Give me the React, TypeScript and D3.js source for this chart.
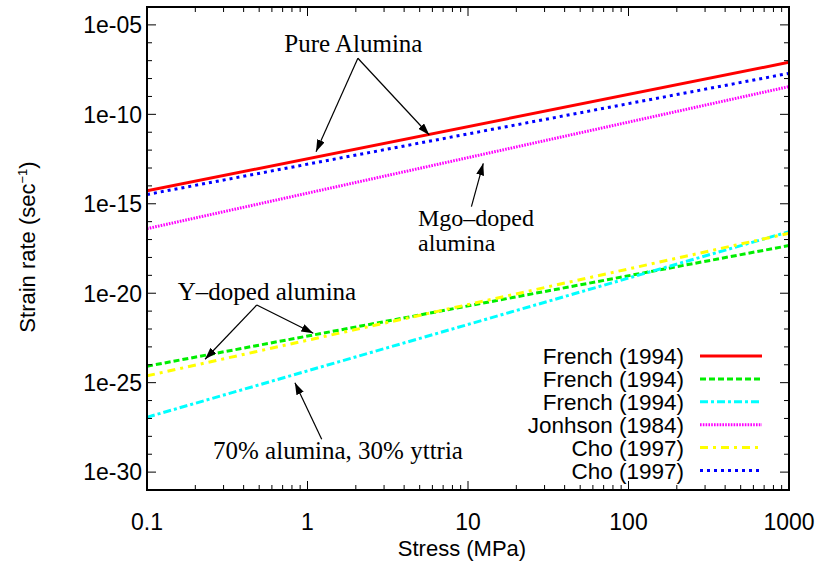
import React from 'react';
import * as d3 from 'd3';

// stress endpoints (MPa), each creep law is a straight line on log-log
const stressEnds = [0.1, 1000];

const seriesNames = ['French (1994)', 'French (1994)', 'French (1994)', 'Jonhson (1984)', 'Cho (1997)', 'Cho (1997)'];
const frenchPure = [5.25e-15, 8.1e-8];
const frenchYDoped = [8.3e-25, 4.6e-18];
const french7030 = [1.17e-27, 2.75e-17];
const johnsonMgo = [4.07e-17, 3.55e-9];
const choYDoped = [2.4e-25, 2.24e-17];
const choPure = [3.31e-15, 1.95e-8];
const seriesRates = [frenchPure, frenchYDoped, french7030, johnsonMgo, choYDoped, choPure];

const colors = ['#ff0000', '#00ee00', '#00ffff', '#ff00ff', '#ffff00', '#0000ff'];
const dashes = ['none', '6,3', '8,3,3,3', '1.6,1.2', '8,5,3,5', '3,4'];

const yTickExps = [-5, -10, -15, -20, -25, -30];
const xTickVals = [0.1, 1, 10, 100, 1000];

// annotation anchors in data coords [stress, rate]
const pureLabelAt = [1.93, 3.2e-7];
const pureApex = [2.06, 1.36e-7];
const pureTips = [[1.13, 8.2e-13], [5.74, 7.0e-12]];
const mgoTail = [10.5, 6.9e-16];
const mgoTip = [12.45, 1.83e-13];
const yDopedApex = [0.483, 2.2e-21];
const yDopedTips = [[0.23, 2.04e-24], [1.087, 5.75e-23]];
const ytTail = [1.226, 6.84e-29];
const ytTip = [0.835, 1.0e-25];

const W = 819, H = 563;
const left = 147, right = 789, top = 7, bottom = 490;

const x = d3.scaleLog().domain([0.1, 1000]).range([left, right]);
const y = d3.scaleLog().domain([1e-31, 1e-4]).range([bottom, top]);

const serif = '"Liberation Serif", "Times New Roman", serif';
const sans = '"Liberation Sans", Arial, Helvetica, sans-serif';

const Arrow: React.FC<{ from: number[]; to: number[] }> = ({ from, to }) => (
  <line x1={x(from[0])} y1={y(from[1])} x2={x(to[0])} y2={y(to[1])}
    stroke="#000" strokeWidth={1.2} markerEnd="url(#ah)" />
);

export default function App() {
  const line = d3.line<[number, number]>().x(d => x(d[0])).y(d => y(d[1]));

  const yMajors = d3.range(-31, -3).map(e => Math.pow(10, e));
  const xMinors: number[] = [];
  [0.1, 1, 10, 100].forEach(b => d3.range(2, 10).forEach(m => xMinors.push(b * m)));

  const legendTextX = 684, legendX1 = 700, legendX2 = 762;
  const legendY0 = 356, legendStep = 22.9;

  return (
    <svg width={W} height={H} style={{ position: 'absolute', left: 0, top: 0, background: '#fff' }}>
      <defs>
        <marker id="ah" viewBox="0 0 12 8" refX={12} refY={4} markerWidth={12} markerHeight={8}
          markerUnits="userSpaceOnUse" orient="auto">
          <path d="M0,0 L12,4 L0,8 Z" fill="#000" />
        </marker>
        <clipPath id="plot"><rect x={left} y={top} width={right - left} height={bottom - top} /></clipPath>
      </defs>

      {/* series */}
      <g clipPath="url(#plot)" fill="none">
        {seriesRates.map((r, i) => (
          <path key={i} d={line(stressEnds.map((s, j) => [s, r[j]]) as [number, number][]) || ''}
            stroke={colors[i]} strokeWidth={3} strokeDasharray={dashes[i]} />
        ))}
      </g>

      {/* y ticks */}
      {yMajors.map((v, i) => {
        const e = Math.round(Math.log10(v));
        const len = yTickExps.includes(e) ? 9 : 5;
        return (
          <g key={i} stroke="#000" strokeWidth={1}>
            <line x1={left} x2={left + len} y1={y(v)} y2={y(v)} />
            <line x1={right} x2={right - len} y1={y(v)} y2={y(v)} />
          </g>
        );
      })}
      {yTickExps.map(e => (
        <text key={e} x={142} y={y(Math.pow(10, e))} dy="0.36em" textAnchor="end"
          fontFamily={sans} fontSize={23}>{`1e-${String(-e).padStart(2, '0')}`}</text>
      ))}

      {/* x ticks */}
      {xTickVals.map(v => (
        <g key={v} stroke="#000" strokeWidth={1}>
          <line x1={x(v)} x2={x(v)} y1={bottom} y2={bottom - 9} />
          <line x1={x(v)} x2={x(v)} y1={top} y2={top + 9} />
        </g>
      ))}
      {xMinors.map(v => (
        <g key={v} stroke="#000" strokeWidth={1}>
          <line x1={x(v)} x2={x(v)} y1={bottom} y2={bottom - 5} />
          <line x1={x(v)} x2={x(v)} y1={top} y2={top + 5} />
        </g>
      ))}
      {xTickVals.map(v => (
        <text key={v} x={x(v)} y={530} textAnchor="middle" fontFamily={sans} fontSize={23}>{String(v)}</text>
      ))}

      <rect x={left} y={top} width={right - left} height={bottom - top} fill="none" stroke="#000" strokeWidth={2} />

      {/* axis titles */}
      <text x={462} y={556} textAnchor="middle" fontFamily={sans} fontSize={22}>Stress (MPa)</text>
      <text transform="translate(35,247) rotate(-90)" textAnchor="middle" fontFamily={sans} fontSize={22}>
        Strain rate (sec<tspan dy={-8} fontSize={13}>−1</tspan><tspan dy={8}>)</tspan>
      </text>

      {/* annotations */}
      <text x={x(pureLabelAt[0])} y={y(pureLabelAt[1])} textAnchor="middle" fontFamily={serif} fontSize={25}>
        Pure Alumina
      </text>
      {pureTips.map((t, i) => <Arrow key={i} from={pureApex} to={t} />)}

      <Arrow from={mgoTail} to={mgoTip} />
      <text x={418} y={226} fontFamily={serif} fontSize={24}>Mgo–doped</text>
      <text x={418} y={251} fontFamily={serif} fontSize={24}>alumina</text>

      <text x={267} y={300} textAnchor="middle" fontFamily={serif} fontSize={25}>Y–doped alumina</text>
      {yDopedTips.map((t, i) => <Arrow key={i} from={yDopedApex} to={t} />)}

      <Arrow from={ytTail} to={ytTip} />
      <text x={338} y={459} textAnchor="middle" fontFamily={serif} fontSize={25}>70% alumina, 30% yttria</text>

      {/* legend */}
      {seriesNames.map((n, i) => {
        const ly = legendY0 + i * legendStep;
        return (
          <g key={i}>
            <text x={legendTextX} y={ly} dy="0.36em" textAnchor="end" fontFamily={sans} fontSize={22.5}>{n}</text>
            <line x1={legendX1} x2={legendX2} y1={ly} y2={ly} stroke={colors[i]} strokeWidth={3}
              strokeDasharray={dashes[i]} />
          </g>
        );
      })}
    </svg>
  );
}
